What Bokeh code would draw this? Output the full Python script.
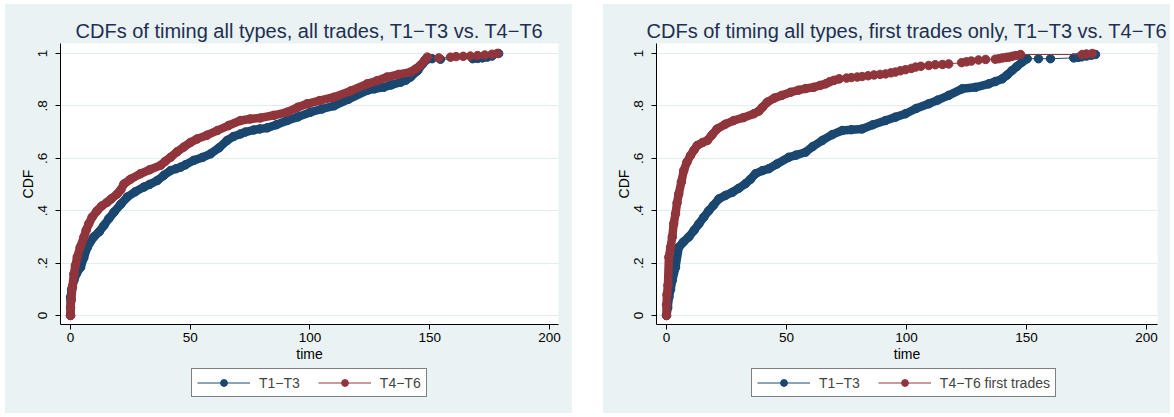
from bokeh.plotting import figure
from bokeh.layouts import row, column
from bokeh.models import Range1d, FixedTicker, Legend, LegendItem, Spacer
from bokeh.embed import file_html
from bokeh.resources import INLINE

# ---------------- data ----------------
titles = ["CDFs of timing all types, all trades, T1\u2212T3 vs. T4\u2212T6",
          "CDFs of timing all types, first trades only, T1\u2212T3 vs. T4\u2212T6"]
legend_left = ["T1\u2212T3", "T4\u2212T6"]
legend_right = ["T1\u2212T3", "T4\u2212T6 first trades"]
xticks = [0, 50, 100, 150, 200]
yticks = [0, 0.2, 0.4, 0.6, 0.8, 1.0]
ytick_labels = ["0", ".2", ".4", ".6", ".8", "1"]
x_title = "time"
y_title = "CDF"

all_t13_time = [0, 0, 0.5, 1.4, 2.5, 4.2, 5.5, 7, 9.7, 12,
                13.9, 16, 18.1, 21, 23.7, 27, 30.6, 33, 36.2, 39,
                41.8, 44, 45.9, 48, 51.5, 55, 58.5, 62, 65.4, 68,
                71, 73, 76.5, 79, 82.1, 86, 90.5, 95, 100.2, 105,
                110, 116, 123.9, 127, 130.8, 134, 137.8, 140, 142, 145,
                147, 149, 151, 154.5, 168, 170, 172, 174, 176, 178.8]
all_t13_cdf = [0, 0.069, 0.1, 0.134, 0.16, 0.184, 0.22, 0.26, 0.30, 0.32,
               0.343, 0.37, 0.394, 0.425, 0.452, 0.472, 0.49, 0.50, 0.515, 0.535,
               0.553, 0.56, 0.566, 0.575, 0.592, 0.603, 0.617, 0.64, 0.668, 0.683,
               0.693, 0.70, 0.708, 0.712, 0.716, 0.728, 0.744, 0.758, 0.776, 0.788,
               0.80, 0.825, 0.859, 0.865, 0.871, 0.88, 0.89, 0.898, 0.91, 0.935,
               0.96, 0.978, 0.98, 0.978, 0.98, 0.981, 0.983, 0.986, 0.99, 1.0]

all_t46_time = [0, 0, 0.3, 0.8, 1.4, 2.0, 2.8, 4, 5.6, 6.5,
                7.6, 9, 11.1, 13, 15.3, 17, 19.5, 21, 22.3, 25,
                29.2, 33, 37.6, 39.5, 41.8, 44.5, 47.3, 50, 52.9, 57,
                61.3, 66, 71, 75, 79.3, 85, 90.5, 95, 98.8, 104,
                110, 117, 123.9, 128, 132.2, 137, 142, 144, 146, 148,
                149, 153.8, 158.7, 161, 164, 167, 170, 173, 176, 178.2]
all_t46_cdf = [0, 0.03, 0.06, 0.11, 0.159, 0.19, 0.223, 0.26, 0.30, 0.325,
               0.35, 0.375, 0.40, 0.418, 0.432, 0.445, 0.464, 0.48, 0.502, 0.52,
               0.541, 0.556, 0.573, 0.588, 0.604, 0.625, 0.643, 0.66, 0.674, 0.688,
               0.706, 0.725, 0.744, 0.75, 0.754, 0.764, 0.776, 0.795, 0.808, 0.82,
               0.833, 0.857, 0.884, 0.896, 0.91, 0.92, 0.929, 0.94, 0.954, 0.975,
               0.986, 0.983, 0.986, 0.988, 0.989, 0.99, 0.992, 0.994, 0.997, 1.0]

first_t13_time = [0, 0.5, 1, 1.7, 2.4, 3.75, 5.1, 7, 9.3, 11.5,
                  13.5, 15.5, 17.6, 19.5, 21.8, 24.5, 27.4, 30, 32.9, 35,
                  37.1, 40, 42.6, 46, 51, 54, 57.9, 61, 64.9, 69,
                  73.2, 77, 81.5, 86, 91.3, 95.4, 99.6, 104, 109.3, 113,
                  117.6, 123.2, 128.75, 134.3, 137, 139.9, 142, 144, 146, 148.2,
                  150.3, 155, 160, 169.7, 171.5, 173, 175, 177, 178.75]
first_t13_cdf = [0, 0.03, 0.07, 0.1, 0.134, 0.184, 0.26, 0.28, 0.30, 0.325,
                 0.35, 0.375, 0.40, 0.42, 0.445, 0.458, 0.47, 0.485, 0.503, 0.52,
                 0.541, 0.553, 0.56, 0.578, 0.604, 0.612, 0.623, 0.645, 0.668, 0.69,
                 0.706, 0.709, 0.712, 0.728, 0.744, 0.757, 0.77, 0.79, 0.808, 0.822,
                 0.84, 0.865, 0.871, 0.884, 0.893, 0.903, 0.918, 0.935, 0.95, 0.967,
                 0.98, 0.98, 0.98, 0.983, 0.985, 0.987, 0.99, 0.993, 0.996]

first_t46_time = [0, 0, 0.2, 0.6, 1, 1.7, 2.4, 3, 3.75, 4.4,
                  5.1, 6.2, 7.2, 8.5, 10, 11.5, 12.8, 15, 17, 19,
                  21.1, 24.5, 28, 32, 36.4, 38.5, 40, 42, 45, 48,
                  51.7, 55, 58, 61.4, 64, 66.3, 68, 69.7, 72, 75,
                  77, 79.5, 81.5, 84, 86.5, 89, 91.3, 93.5, 95.4, 97.5,
                  99.6, 102, 103.8, 106, 109.3, 112, 115, 117.6, 123, 125,
                  127, 130, 133, 137, 138.5, 140, 141.5, 142.6, 144, 145.5,
                  147.5, 173.2, 175, 177.4]
first_t46_cdf = [0, 0.04, 0.08, 0.115, 0.223, 0.26, 0.30, 0.35, 0.388, 0.43,
                 0.464, 0.51, 0.553, 0.585, 0.611, 0.632, 0.649, 0.66, 0.668, 0.69,
                 0.712, 0.73, 0.744, 0.755, 0.77, 0.78, 0.795, 0.814, 0.83, 0.84,
                 0.852, 0.86, 0.866, 0.871, 0.878, 0.884, 0.892, 0.897, 0.903, 0.906,
                 0.908, 0.91, 0.912, 0.915, 0.918, 0.92, 0.922, 0.926, 0.929, 0.934,
                 0.938, 0.943, 0.948, 0.951, 0.954, 0.957, 0.958, 0.96, 0.965, 0.968,
                 0.971, 0.975, 0.977, 0.978, 0.98, 0.983, 0.985, 0.986, 0.989, 0.992,
                 0.996, 0.996, 0.998, 1.0]

# ---------------- styling ----------------
BLUE = "#1a476f"
RED = "#90353b"
BG = "#eaf2f3"
GRID = "#e3ecee"
FONT = "Liberation Sans"
MARK = 8.5


def make_panel(title, series, labels, fw, bl, br, xr, legend_x):
    width = fw + bl + br
    p = figure(frame_width=fw, frame_height=281, x_range=Range1d(*xr),
               y_range=Range1d(-0.0344, 1.038),
               output_backend="svg", toolbar_location=None,
               min_border_left=bl, min_border_right=br,
               min_border_top=39, min_border_bottom=40)
    p.background_fill_color = "white"
    p.border_fill_color = BG
    p.outline_line_color = None

    p.title.text = title
    p.title.align = "center"
    p.title.text_font = FONT
    p.title.text_font_size = "20px"
    p.title.text_font_style = "normal"
    p.title.text_color = "#1e2f51"
    p.title.standoff = 3

    for ax in (p.xaxis[0], p.yaxis[0]):
        ax.axis_line_color = "black"
        ax.major_tick_line_color = "black"
        ax.major_tick_out = 5
        ax.major_tick_in = 0
        ax.minor_tick_line_color = None
        ax.major_label_text_font = FONT
        ax.major_label_text_font_size = "13.5px"
        ax.major_label_text_color = "black"
        ax.axis_label_text_font = FONT
        ax.axis_label_text_font_size = "14px"
        ax.axis_label_text_font_style = "normal"
        ax.axis_label_text_color = "black"
    p.xaxis.ticker = FixedTicker(ticks=xticks)
    p.yaxis.ticker = FixedTicker(ticks=yticks)
    p.yaxis.major_label_overrides = {t: s for t, s in zip(yticks, ytick_labels)}
    p.yaxis.major_label_orientation = "vertical"
    p.xaxis.axis_label = x_title
    p.yaxis.axis_label = y_title
    p.xaxis.major_label_standoff = 3
    p.yaxis.major_label_standoff = 8
    p.xaxis.axis_label_standoff = 1
    p.yaxis.axis_label_standoff = 0
    p.xgrid.visible = False
    p.ygrid.grid_line_color = GRID
    p.ygrid.grid_line_width = 1

    for t, c, color, dense_end in series:
        k = sum(1 for v in t if v <= dense_end)
        p.line(t[:k], c[:k], line_color=color, line_width=MARK,
               line_cap="round", line_join="round")
        p.line(t, c, line_color=color, line_width=1)
        p.scatter(t, c, marker="circle", size=MARK, fill_color=color, line_color=color)

    # legend strip (same graph-region colour) below the plot; its ranges keep
    # the key renderers' data out of view so only the legend shows.
    lg = figure(width=width, height=49, output_backend="svg", toolbar_location=None,
                min_border=0, x_range=Range1d(1000, 1001), y_range=Range1d(1000, 1001))
    lg.background_fill_color = BG
    lg.border_fill_color = BG
    lg.outline_line_color = None
    lg.axis.visible = False
    lg.grid.visible = False
    items = []
    for (t, c, color, dense_end), lab in zip(series, labels):
        thin = lg.line(t, c, line_color=color, line_width=1)
        dots = lg.scatter(t, c, marker="circle", size=MARK,
                          fill_color=color, line_color=color)
        items.append(LegendItem(label=lab, renderers=[thin, dots]))
    legend = Legend(items=items, orientation="horizontal", location=(legend_x, 16))
    legend.border_line_color = "black"
    legend.border_line_width = 1
    legend.background_fill_color = "white"
    legend.background_fill_alpha = 1
    legend.label_text_font = FONT
    legend.label_text_font_size = "14px"
    legend.glyph_width = 53
    legend.glyph_height = 17
    legend.label_standoff = 9
    legend.spacing = 18
    legend.padding = 5
    legend.margin = 0
    lg.add_layout(legend, "center")
    return column(p, lg, spacing=0, styles={"background-color": BG})


c1 = make_panel(titles[0],
                [(all_t13_time, all_t13_cdf, BLUE, 149),
                 (all_t46_time, all_t46_cdf, RED, 149)],
                legend_left, 498, 55, 14, (-4.2, 203.8), 131)
c2 = make_panel(titles[1],
                [(first_t13_time, first_t13_cdf, BLUE, 150.3),
                 (first_t46_time, first_t46_cdf, RED, 72)],
                legend_right, 501, 53, 13, (-4.17, 204.6), 95)

layout = column(Spacer(width=10, height=4),
                row(Spacer(width=5, height=10), c1, Spacer(width=31, height=10), c2))
open("out.html", "w").write(file_html(layout, INLINE))
